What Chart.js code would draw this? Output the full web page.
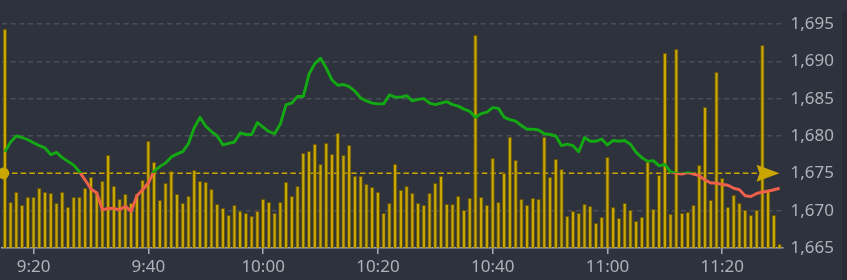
<!DOCTYPE html>
<html>
<head>
<meta charset="utf-8">
<script src="https://cdn.jsdelivr.net/npm/chart.js@4/dist/chart.umd.min.js"></script>
<style>
  html, body { margin: 0; padding: 0; background: #2e323c; }
  #wrap { position: relative; width: 847px; height: 280px; }
  #scroll { position: absolute; left: 842px; top: 12px; width: 5px; height: 268px;
            background: #282b34; border-top-left-radius: 3px; }
</style>
</head>
<body>
<div id="wrap">
  <canvas id="chart" width="847" height="280"></canvas>
  <div id="scroll"></div>
</div>
<script>
// --- dados ---
const prevClose = 1675;
const startTime = '9:15';
const tickLabels = ['9:20', '9:40', '10:00', '10:20', '10:40', '11:00', '11:20'];

const prices = [
  1677.9, 1679.2, 1680.0, 1679.8, 1679.5, 1679.1, 1678.7, 1678.4, 1677.5, 1677.8,
  1677.1, 1676.6, 1676.1, 1675.2, 1674.1, 1672.9, 1672.4, 1670.1, 1670.3, 1670.3,
  1670.1, 1670.6, 1669.9, 1672.0, 1672.8, 1673.7, 1675.3, 1675.9, 1676.4, 1677.2,
  1677.6, 1677.9, 1679.0, 1681.1, 1682.5, 1681.3, 1680.6, 1680.0, 1678.8, 1679.0,
  1679.2, 1680.4, 1680.2, 1680.2, 1681.8, 1681.2, 1680.6, 1680.3, 1681.6, 1684.2,
  1684.4, 1685.3, 1685.3, 1688.3, 1689.7, 1690.4, 1689.1, 1687.5, 1686.8, 1686.9,
  1686.6, 1686.0, 1685.1, 1684.7, 1684.4, 1684.3, 1684.3, 1685.5, 1685.2, 1685.2,
  1685.4, 1684.7, 1684.9, 1685.0, 1684.4, 1684.2, 1684.4, 1684.6, 1684.2, 1684.0,
  1683.6, 1683.3, 1682.5, 1683.0, 1683.2, 1683.8, 1683.7, 1682.5, 1682.2, 1682.0,
  1681.4, 1680.9, 1680.9, 1680.8, 1680.3, 1680.2, 1680.0, 1678.7, 1678.9, 1678.7,
  1677.9, 1679.8, 1679.3, 1679.3, 1679.6, 1678.8, 1679.4, 1679.3, 1679.4, 1678.9,
  1677.8, 1677.1, 1676.6, 1676.7, 1676.0, 1676.2, 1675.2, 1675.0, 1674.9, 1675.1,
  1674.9, 1674.7, 1674.1, 1673.7, 1673.7, 1673.5, 1673.4, 1673.0, 1672.8, 1672.0,
  1671.9, 1672.3, 1672.5, 1672.6, 1672.8, 1673.0
];

const volumes = [
  219, 46, 56, 43, 51, 51, 60, 56, 55, 45,
  56, 41, 51, 51, 60, 71, 56, 67, 93, 62,
  49, 54, 45, 54, 68, 107, 86, 48, 65, 77,
  54, 45, 52, 78, 67, 66, 59, 44, 40, 33,
  43, 37, 35, 32, 37, 49, 46, 35, 46, 66,
  52, 62, 95, 97, 104, 84, 105, 94, 115, 93,
  103, 72, 72, 64, 61, 56, 35, 45, 84, 58,
  62, 55, 45, 43, 55, 65, 72, 44, 44, 52,
  38, 50, 213, 51, 43, 90, 46, 75, 111, 88,
  49, 43, 50, 49, 111, 71, 89, 79, 32, 37,
  35, 44, 42, 25, 31, 91, 41, 30, 45, 38,
  27, 31, 86, 39, 73, 195, 34, 199, 35, 36,
  43, 83, 141, 48, 176, 70, 41, 53, 45, 38,
  33, 38, 203, 59, 33, 4
];

// --- cores ---
const colors = {
  up: '#13a913',
  down: '#ef604b',
  bar: '#c9a600',
  barEdge: 'rgba(105, 88, 0, 0.9)',
  ref: '#c9a600',
  grid: '#4a4e58',
  axis: '#a9adb5',
  text: '#aeb2ba',
};

// rótulos de minuto a minuto a partir do horário inicial
const times = prices.map((_, i) => {
  const [h, m] = startTime.split(':').map(Number);
  const t = h * 60 + m + i;
  return Math.floor(t / 60) + ':' + String(t % 60).padStart(2, '0');
});

// cor da linha: verde acima do fechamento anterior, vermelho abaixo
const lineColor = (ctx) => {
  const chart = ctx.chart;
  const area = chart.chartArea;
  if (!area) return colors.up;
  const y = chart.scales.y.getPixelForValue(prevClose);
  const stop = Math.min(1, Math.max(0, (y - area.top) / (area.bottom - area.top)));
  const g = chart.ctx.createLinearGradient(0, area.top, 0, area.bottom);
  g.addColorStop(0, colors.up);
  g.addColorStop(stop, colors.up);
  g.addColorStop(stop, colors.down);
  g.addColorStop(1, colors.down);
  return g;
};

// linha tracejada do fechamento anterior + marcadores nas pontas
const refLinePlugin = {
  id: 'refLine',
  beforeDatasetsDraw(chart) {
    const { ctx, chartArea: a, scales } = chart;
    const y = scales.y.getPixelForValue(prevClose);
    ctx.save();
    ctx.strokeStyle = colors.ref;
    ctx.lineWidth = 1.5;
    ctx.setLineDash([5.5, 3.2]);
    ctx.beginPath();
    ctx.moveTo(a.left + 10, y);
    ctx.lineTo(a.right - 24, y);
    ctx.stroke();
    ctx.restore();
  },
  afterDatasetsDraw(chart) {
    const { ctx, chartArea: a, scales } = chart;
    const y = scales.y.getPixelForValue(prevClose);
    ctx.save();
    ctx.fillStyle = colors.ref;
    ctx.beginPath();
    ctx.arc(a.left + 1.5, y, 5.8, 0, Math.PI * 2);
    ctx.fill();
    const tip = a.right - 3;
    ctx.beginPath();
    ctx.moveTo(tip - 23, y - 8.5);
    ctx.lineTo(tip, y);
    ctx.lineTo(tip - 23, y + 8.5);
    ctx.lineTo(tip - 20, y);
    ctx.closePath();
    ctx.fill();
    ctx.restore();
  }
};

const font = { family: "'Noto Sans', 'Open Sans', sans-serif", size: 17 };

new Chart(document.getElementById('chart').getContext('2d'), {
  type: 'bar',
  data: {
    labels: times,
    datasets: [
      {
        type: 'line',
        data: prices,
        yAxisID: 'y',
        borderColor: lineColor,
        borderWidth: 2.9,
        borderJoinStyle: 'round',
        pointRadius: 0,
        tension: 0,
        order: 0,
      },
      {
        type: 'bar',
        data: volumes,
        yAxisID: 'vol',
        backgroundColor: colors.bar,
        borderColor: colors.barEdge,
        borderWidth: 1,
        borderSkipped: 'bottom',
        categoryPercentage: 1,
        barPercentage: 0.76,
        order: 1,
      }
    ]
  },
  options: {
    responsive: false,
    animation: false,
    layout: { padding: { top: 24, left: 2, right: 0, bottom: 0 } },
    plugins: { legend: { display: false }, tooltip: { enabled: false } },
    scales: {
      x: {
        offset: true,
        grid: {
          offset: false,
          drawOnChartArea: false,
          drawTicks: true,
          tickLength: 6,
          lineWidth: 1.5,
          color: (c) => tickLabels.includes(times[c.index]) ? colors.axis : 'transparent',
        },
        border: { display: true, color: colors.axis, width: 1.5 },
        ticks: {
          autoSkip: false,
          maxRotation: 0,
          padding: 3,
          color: colors.text,
          font,
          callback: (v, i) => tickLabels.includes(times[i]) ? times[i] : '',
        },
        afterFit: (s) => { s.height = 32; },
      },
      y: {
        position: 'right',
        min: 1665,
        max: 1695,
        grid: {
          drawTicks: false,
          color: (c) => (c.tick.value === 1665 || c.tick.value === prevClose) ? 'transparent' : colors.grid,
          lineWidth: 1.5,
        },
        border: { display: false, dash: [5, 3.7] },
        ticks: {
          stepSize: 5,
          padding: 8,
          color: colors.text,
          font,
          callback: (v) => v.toLocaleString('en-US'),
        },
        afterFit: (s) => { s.width = 64.5; },
      },
      vol: {
        display: false,
        min: 0,
        max: 224,
      }
    }
  },
  plugins: [refLinePlugin]
});
</script>
</body>
</html>
